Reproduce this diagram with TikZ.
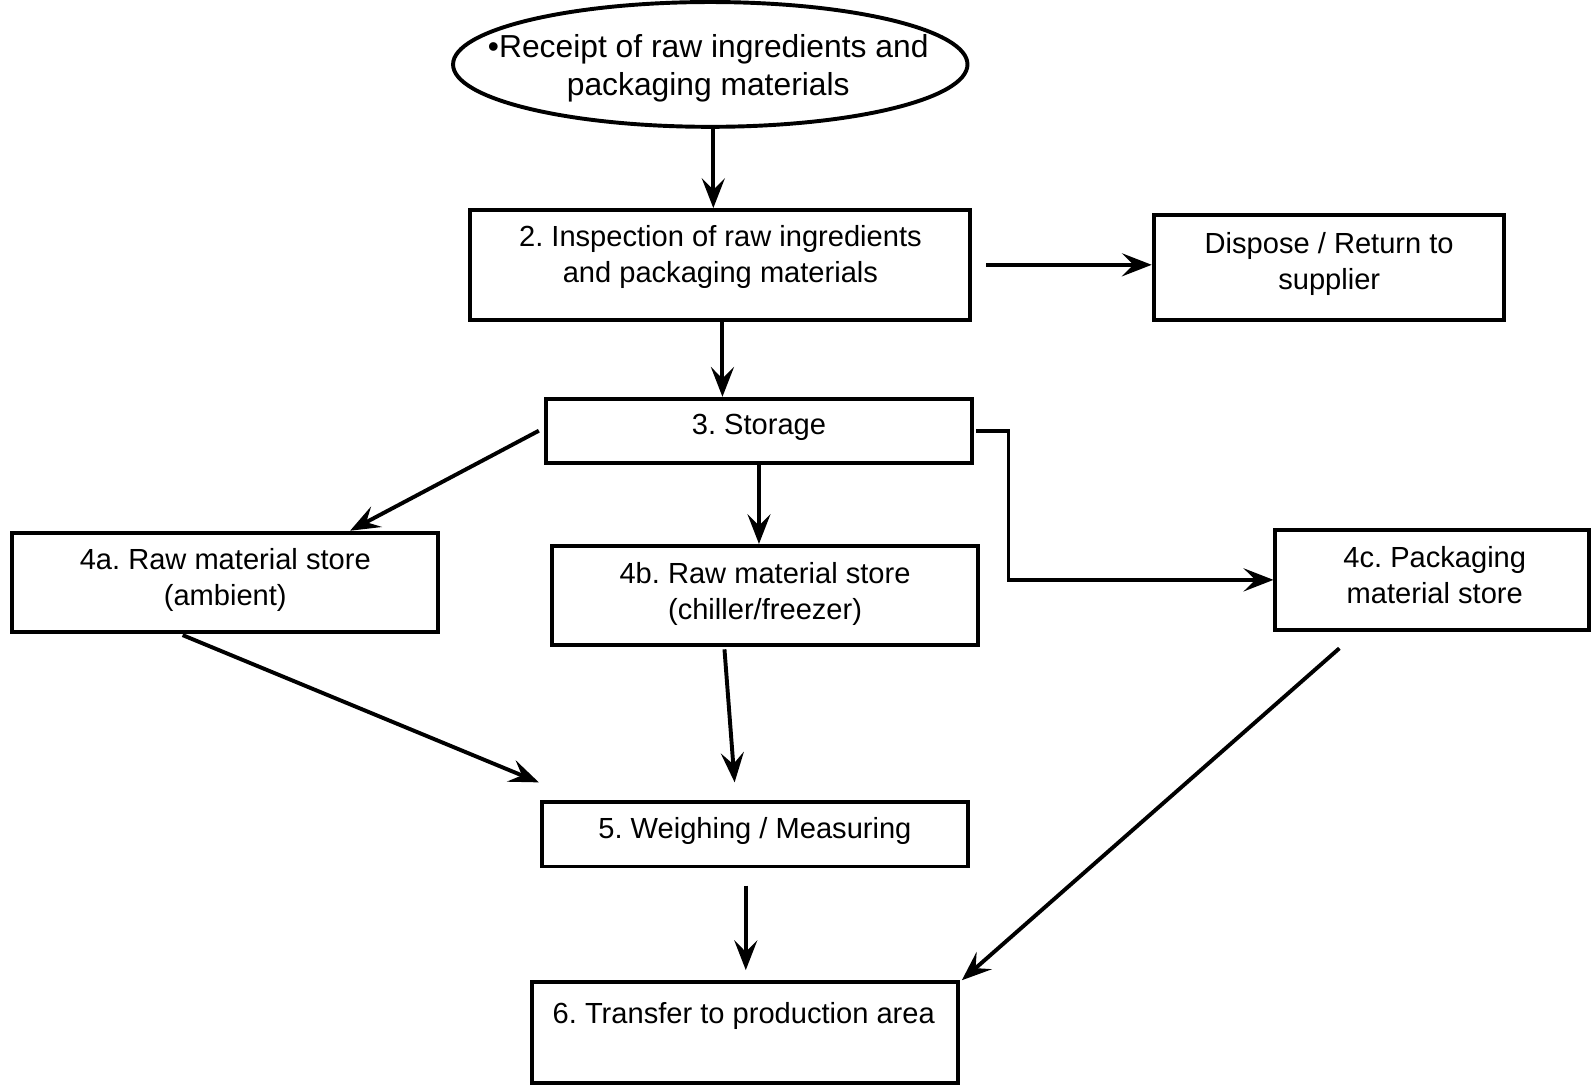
\documentclass[tikz,border=0pt]{standalone}
\usepackage{fontspec}
\setmainfont{Liberation Sans}
\usetikzlibrary{arrows.meta,shapes.geometric,calc}
\frenchspacing
\begin{document}
\begin{tikzpicture}[x=0.75pt,y=-0.75pt,
  every node/.style={font=\fontsize{21.5}{26.5}\selectfont},
  box/.style={draw, line width=2.9pt, rectangle, inner sep=0pt},
  oval/.style={draw, line width=2.9pt, ellipse, inner sep=0pt},
  txt/.style={align=center, inner sep=0pt},
  bigtxt/.style={txt, font=\fontsize{23.5}{28.5}\selectfont},
  flow/.style={line width=2.9pt, -{Stealth[length=22pt,width=17pt,inset=8.5pt]}}]
\useasboundingbox (0,0) rectangle (1568,1069);

% shapes
\node[oval, minimum width=507*0.75pt, minimum height=123*0.75pt] (receipt) at (700,63.5) {};
\node[box, minimum width=493*0.75pt, minimum height=108*0.75pt] (insp) at (709.5,261) {};
\node[box, minimum width=345*0.75pt, minimum height=103*0.75pt] (disp) at (1309.5,263.5) {};
\node[box, minimum width=420*0.75pt, minimum height=63*0.75pt] (stor) at (748,424.5) {};
\node[box, minimum width=420*0.75pt, minimum height=98*0.75pt] (a4) at (222,574) {};
\node[box, minimum width=420*0.75pt, minimum height=98*0.75pt] (b4) at (754,587) {};
\node[box, minimum width=309*0.75pt, minimum height=99*0.75pt] (c4) at (1411.5,571.5) {};
\node[box, minimum width=420*0.75pt, minimum height=64*0.75pt] (w5) at (744,822) {};
\node[box, minimum width=420*0.75pt, minimum height=99*0.75pt] (t6) at (734,1017.5) {};

% labels
\node[bigtxt] (receipttxt) at (698,67.5) {•Receipt of raw ingredients and\\packaging materials};
\node[txt] (insptxt) at (710,253.5) {2. Inspection of raw ingredients\\and packaging materials};
\node[txt] (disptxt) at (1310,260) {Dispose / Return to\\supplier};
\node[txt] (stortxt) at (748,421) {3. Storage};
\node[txt] (a4txt) at (222,571.5) {4a. Raw material store\\(ambient)};
\node[txt] (b4txt) at (754,585.5) {4b. Raw material store\\(chiller/freezer)};
\node[txt] (c4txt) at (1414,566.5) {4c. Packaging\\material store};
\node[txt] (w5txt) at (744,819) {5. Weighing / Measuring};
\node[txt] (t6txt) at (733,1001) {6. Transfer to production area};

% connectors
\draw[flow] ($(receipt.south)+(3,0)$) -- ($(insp.north)+(-6.5,0)$);
\draw[flow] ($(insp.east)+(14,0)$) -- (disp.west |- insp.east);
\draw[flow] ($(insp.south)+(2.5,0)$) -- ($(stor.north)+(-36,0)$);
\draw[flow] ($(stor.west)+(-5,0)$) -- ($(a4.north)+(123,0)$);
\draw[flow] (stor.south) -- ($(b4.north)+(-6,0)$);
\draw[flow] ($(stor.east)+(2,0)$) -- ++(32,0) |- (c4.west);
\draw[flow] ($(a4.south)+(-42,1)$) -- ($(w5.north west)+(-1,-17)$);
\draw[flow] ($(b4.south)+(-40,2)$) -- ($(w5.north)+(-20,-17)$);
\draw[flow] ($(w5.south)+(-9,17)$) -- ($(t6.north)+(1,-10)$);
\draw[flow] ($(c4.south)+(-91.5,16)$) -- ($(t6.north east)+(2,0)$);
\end{tikzpicture}
\end{document}
